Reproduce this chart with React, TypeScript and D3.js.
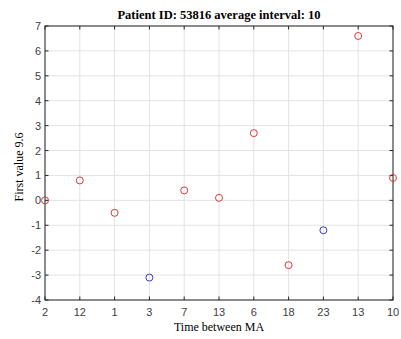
import React from "react";
import * as d3 from "d3";

const xLabels = ["2", "12", "1", "3", "7", "13", "6", "18", "23", "13", "10"];
const firstValues = [0.0, 0.8, -0.5, -3.1, 0.4, 0.1, 2.7, -2.6, -1.2, 6.6, 0.9];
const pointColors = ["red", "red", "red", "blue", "red", "red", "red", "red", "blue", "red", "red"];
const yTicks = [-4, -3, -2, -1, 0, 1, 2, 3, 4, 5, 6, 7];

const W = 401;
const H = 339;
const margin = { left: 45, right: 8, top: 26, bottom: 39 };

const colorMap: Record<string, string> = { red: "#d83a3a", blue: "#3a3ad0" };

export default function App() {
  const x = d3
    .scaleLinear()
    .domain([0, xLabels.length - 1])
    .range([margin.left, W - margin.right]);
  const y = d3
    .scaleLinear()
    .domain([-4, 7])
    .range([H - margin.bottom, margin.top]);

  const x0 = margin.left;
  const x1 = W - margin.right;
  const y0 = H - margin.bottom;
  const y1 = margin.top;
  const axisColor = "#262626";
  const gridColor = "#e3e3e3";
  const tickLen = 3.5;

  return (
    <svg
      width={W}
      height={H}
      style={{ position: "absolute", left: 0, top: 0, background: "#fff" }}
    >
      <rect x={0} y={0} width={W} height={H} fill="#fff" />
      {/* grid */}
      {xLabels.map((_, i) => (
        <line key={"gx" + i} x1={x(i)} x2={x(i)} y1={y1} y2={y0} stroke={gridColor} strokeWidth={1} />
      ))}
      {yTicks.map((t) => (
        <line key={"gy" + t} x1={x0} x2={x1} y1={y(t)} y2={y(t)} stroke={gridColor} strokeWidth={1} />
      ))}
      {/* box */}
      <rect x={x0} y={y1} width={x1 - x0} height={y0 - y1} fill="none" stroke={axisColor} strokeWidth={1} />
      {/* ticks */}
      {xLabels.map((_, i) => (
        <g key={"tx" + i}>
          <line x1={x(i)} x2={x(i)} y1={y0} y2={y0 - tickLen} stroke={axisColor} />
          <line x1={x(i)} x2={x(i)} y1={y1} y2={y1 + tickLen} stroke={axisColor} />
        </g>
      ))}
      {yTicks.map((t) => (
        <g key={"ty" + t}>
          <line x1={x0} x2={x0 + tickLen} y1={y(t)} y2={y(t)} stroke={axisColor} />
          <line x1={x1} x2={x1 - tickLen} y1={y(t)} y2={y(t)} stroke={axisColor} />
        </g>
      ))}
      {/* tick labels */}
      {xLabels.map((lab, i) => (
        <text
          key={"lx" + i}
          x={x(i)}
          y={y0 + 16}
          textAnchor="middle"
          fontFamily="Liberation Sans, Arial, sans-serif"
          fontSize={11}
          fill="#404040"
        >
          {lab}
        </text>
      ))}
      {yTicks.map((t) => (
        <text
          key={"ly" + t}
          x={x0 - 4}
          y={y(t) + 4}
          textAnchor="end"
          fontFamily="Liberation Sans, Arial, sans-serif"
          fontSize={11}
          fill="#404040"
        >
          {t}
        </text>
      ))}
      {/* points */}
      {firstValues.map((v, i) => (
        <circle
          key={"p" + i}
          cx={x(i)}
          cy={y(v)}
          r={3.5}
          fill="none"
          stroke={colorMap[pointColors[i]]}
          strokeWidth={1}
        />
      ))}
      {/* title and labels */}
      <text
        x={(x0 + x1) / 2}
        y={19}
        textAnchor="middle"
        fontFamily="Liberation Serif, Times New Roman, serif"
        fontWeight="bold"
        fontSize={12.5}
        fill="#000"
      >
        Patient ID: 53816 average interval: 10
      </text>
      <text
        x={(x0 + x1) / 2}
        y={331}
        textAnchor="middle"
        fontFamily="Liberation Serif, Times New Roman, serif"
        fontSize={12}
        fill="#000"
      >
        Time between MA
      </text>
      <text
        transform={`translate(23, ${(y0 + y1) / 2 + 4}) rotate(-90)`}
        textAnchor="middle"
        fontFamily="Liberation Serif, Times New Roman, serif"
        fontSize={12}
        fill="#000"
      >
        First value 9.6
      </text>
    </svg>
  );
}
